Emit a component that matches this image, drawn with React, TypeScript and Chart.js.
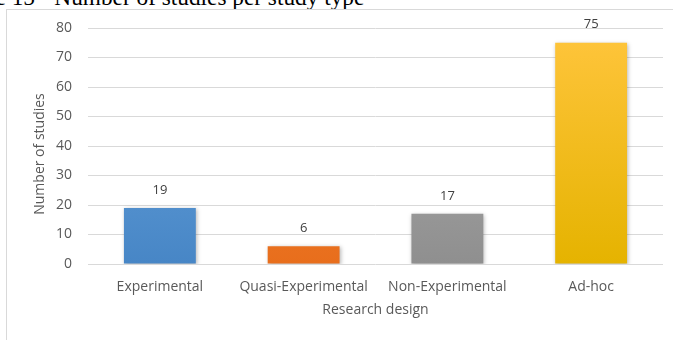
import React, { useEffect, useRef } from "react";
import { Chart, registerables } from "chart.js";

Chart.register(...registerables);

const categories = ["Experimental", "Quasi-Experimental", "Non-Experimental", "Ad-hoc"];
const studyCounts = [19, 6, 17, 75];
const yTicks = [0, 10, 20, 30, 40, 50, 60, 70, 80];
const yAxisTitle = "Number of studies";
const xAxisTitle = "Research design";
const gradientStops: [string, string][] = [
  ["#6ea8df", "#4786c6"],
  ["#f5883a", "#e86e1c"],
  ["#b0b0b0", "#8f8f8f"],
  ["#ffc53d", "#e5b300"],
];

const FONT = "'Open Sans', 'Noto Sans', sans-serif";

const valueLabels = {
  id: "valueLabels",
  afterDatasetsDraw(chart: any) {
    const { ctx } = chart;
    const meta = chart.getDatasetMeta(0);
    ctx.save();
    ctx.font = `13px ${FONT}`;
    ctx.fillStyle = "#404040";
    ctx.textAlign = "center";
    ctx.textBaseline = "middle";
    meta.data.forEach((bar: any, i: number) => {
      ctx.fillText(String(studyCounts[i]), bar.x, bar.y - 18);
    });
    ctx.restore();
  },
};

// Vertical axis title, placed a little below the plot's vertical centre
const yTitle = {
  id: "yTitle",
  afterDraw(chart: any) {
    const { ctx, chartArea } = chart;
    ctx.save();
    ctx.translate(40, (chartArea.top + chartArea.bottom) / 2 + 8);
    ctx.rotate(-Math.PI / 2);
    ctx.font = `14px ${FONT}`;
    ctx.fillStyle = "#595959";
    ctx.textAlign = "center";
    ctx.textBaseline = "middle";
    ctx.fillText(yAxisTitle, 0, 0);
    ctx.restore();
  },
};

const barShadow = {
  id: "barShadow",
  beforeDatasetsDraw(chart: any) {
    const { ctx } = chart;
    ctx.save();
    ctx.shadowColor = "rgba(0,0,0,0.28)";
    ctx.shadowBlur = 4;
    ctx.shadowOffsetX = 1;
    ctx.shadowOffsetY = 1;
  },
  afterDatasetsDraw(chart: any) {
    chart.ctx.restore();
  },
};

export default function App() {
  const canvasRef = useRef<HTMLCanvasElement | null>(null);

  useEffect(() => {
    document.body.style.margin = "0";
    document.body.style.overflow = "hidden";
    const canvas = canvasRef.current;
    if (!canvas) return;
    const chart = new Chart(canvas, {
      type: "bar",
      data: {
        labels: categories,
        datasets: [
          {
            data: studyCounts,
            backgroundColor: (c: any) => {
              const area = c.chart.chartArea;
              const stops = gradientStops[c.dataIndex % gradientStops.length];
              if (!area) return stops[0];
              const g = c.chart.ctx.createLinearGradient(0, area.top, 0, area.bottom);
              g.addColorStop(0, stops[0]);
              g.addColorStop(1, stops[1]);
              return g;
            },
            borderWidth: 0,
            barPercentage: 0.5,
            categoryPercentage: 1,
          },
        ],
      },
      options: {
        responsive: false,
        animation: false,
        events: [],
        layout: { padding: { left: 0, right: 10, top: 28, bottom: 16 } },
        plugins: {
          legend: { display: false },
          tooltip: { enabled: false },
          title: { display: false },
        },
        scales: {
          x: {
            offset: true,
            grid: { display: false, drawTicks: false },
            border: { display: false },
            ticks: {
              color: "#595959",
              font: { family: FONT, size: 14 },
              padding: 15,
              maxRotation: 0,
              autoSkip: false,
            },
            title: {
              display: true,
              text: xAxisTitle,
              color: "#595959",
              font: { family: FONT, size: 14 },
              padding: { top: 0, bottom: 6 },
            },
            afterFit: (scale: any) => {
              scale.height = 60;
            },
          },
          y: {
            min: 0,
            max: 80,
            afterBuildTicks: (scale: any) => {
              scale.ticks = yTicks.map((v) => ({ value: v }));
            },
            grid: { color: "#d9d9d9", lineWidth: 1, drawTicks: false },
            border: { display: false },
            ticks: {
              color: "#595959",
              font: { family: FONT, size: 14 },
              padding: 16,
            },
            afterFit: (scale: any) => {
              scale.width = 88;
            },
          },
        },
      },
      plugins: [barShadow, valueLabels, yTitle],
    });
    return () => chart.destroy();
  }, []);

  return (
    <div style={{ position: "relative", width: 673, height: 340, overflow: "hidden", background: "#fff" }}>
      <div
        style={{
          position: "absolute",
          left: -55,
          top: -14,
          fontFamily: "'Liberation Serif', 'Times New Roman', serif",
          fontSize: 23.3,
          lineHeight: "23.3px",
          color: "#000",
          whiteSpace: "nowrap",
        }}
      >
        Figure 15 - Number of studies per study type
      </div>
      <div
        style={{
          position: "absolute",
          left: 6,
          top: 9,
          width: 720,
          height: 400,
          border: "1px solid #d9d9d9",
          boxSizing: "border-box",
        }}
      />
      <canvas
        ref={canvasRef}
        width={673}
        height={340}
        style={{ position: "absolute", left: 0, top: 0, width: 673, height: 340 }}
      />
    </div>
  );
}
